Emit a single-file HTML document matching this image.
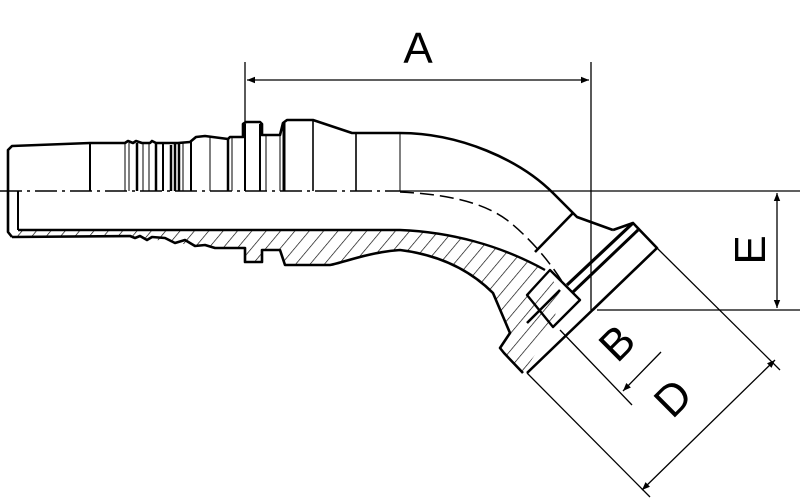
<!DOCTYPE html>
<html><head><meta charset="utf-8"><style>
html,body{margin:0;padding:0;background:#fff;}
svg{display:block;}
text{font-family:"Liberation Sans",sans-serif;fill:#000;}
</style></head><body>
<svg width="800" height="500" viewBox="0 0 800 500" xmlns="http://www.w3.org/2000/svg">
<defs>
<pattern id="h" width="11" height="11" patternUnits="userSpaceOnUse" patternTransform="rotate(40)">
<line x1="0" y1="0" x2="0" y2="11" stroke="#000" stroke-width="1.3"/>
</pattern>
<marker id="ar" viewBox="0 0 10 10" refX="10" refY="5" markerWidth="14" markerHeight="8" orient="auto-start-reverse" markerUnits="userSpaceOnUse">
<path d="M0,1 L10,5 L0,9 Z" fill="#000"/>
</marker>
</defs>

<path d="M10,230 L400,230 C450,232 500,245 545,270 L560,290 L553,327 L523,373 L500,348 L510,333 L493,293 C470,270 440,255 400,250 C370,252 345,262 330,265 L285,265 L280,250 L262,250 L262,262 L245,262 L245,248 L200,246 L190,245 L130,236 L10,238 Z" fill="url(#h)" stroke="none"/>

<g fill="none" stroke="#000" stroke-width="2.6" stroke-linejoin="round">
<path d="M12,237 L8,232 L8,150 L12,146 L90,143 L125,143 L128,141 L133,143 L136,141 L142,143 L150,143 L152,141 L156,143 L163,143 L172,143 L178,143 L190,142 L196,137 L205,136 L228,139 L230,137 L243,137 L243,124 L246,122 L260,122 L262,124 L262,135 L280,135 L283,123 L287,120 L313,120 L352,133 L400,133 C460,133 520,160 553,193 L562,202 L577,217 L613,230"/>
<path d="M12,237 L130,236 L135,238 L140,236 L147,240 L152,237 L165,238 L175,243 L185,240 L195,246 L205,245 L215,248 L245,248 L245,262 L262,262 L262,250 L280,250 L285,265 L330,265 C345,262 370,252 400,250 C440,255 470,270 493,293 L510,333 L500,348 L504,353 L523,373"/>
<path d="M18,230 L400,230 C450,232 500,245 545,270" stroke-width="2.4"/>
<path d="M18,191 L18,230" stroke-width="2"/>
<path d="M613,230 L633,223 L657,248 L527,373"/>
<path d="M633,223 L567,285" stroke-width="3.2"/>
<path d="M638,230 L573,292" stroke-width="3"/>
<path d="M657,248 L593,310" stroke-width="2"/>
<path d="M573,213 L535,252"/>
<path d="M527,295 L550,270 L580,300 L553,327 Z" stroke-width="2.4"/>
<path d="M560,290 L527,323"/>
</g>

<g stroke="#000" stroke-width="2">
<line x1="90" y1="143" x2="90" y2="191"/>
<line x1="125" y1="143" x2="125" y2="191" stroke-width="1"/>
<line x1="129" y1="143" x2="129" y2="191" stroke-width="1"/>
<line x1="137" y1="143" x2="137" y2="191" stroke-width="2.5"/>
<line x1="143" y1="143" x2="143" y2="191" stroke-width="1"/>
<line x1="149" y1="143" x2="149" y2="191" stroke-width="1"/>
<line x1="156" y1="143" x2="156" y2="191" stroke-width="2.5"/>
<line x1="163" y1="143" x2="163" y2="191"/>
<line x1="171" y1="145" x2="171" y2="191" stroke-width="2.5"/>
<line x1="175" y1="143" x2="175" y2="191" stroke-width="2.5"/>
<line x1="179" y1="143" x2="179" y2="191" stroke-width="2.5"/>
<line x1="183" y1="143" x2="183" y2="191" stroke-width="1"/>
<line x1="191" y1="142" x2="191" y2="191"/>
<line x1="210" y1="137" x2="210" y2="191" stroke-width="1"/>
<line x1="228" y1="139" x2="228" y2="191" stroke-width="2.5"/>
<line x1="232" y1="137" x2="232" y2="191" stroke-width="1"/>
<line x1="245" y1="124" x2="245" y2="191"/>
<line x1="260" y1="124" x2="260" y2="191"/>
<line x1="266" y1="135" x2="266" y2="191" stroke-width="1"/>
<line x1="280" y1="135" x2="280" y2="191" stroke-width="1"/>
<line x1="284" y1="123" x2="284" y2="191" stroke-width="3"/>
<line x1="313" y1="120" x2="313" y2="191" stroke-width="1.6"/>
<line x1="356" y1="133" x2="356" y2="191" stroke-width="1.6"/>
<line x1="400" y1="133" x2="400" y2="191" stroke-width="1"/>
</g>

<g stroke="#000" stroke-width="1.5" fill="none">
<line x1="0" y1="191" x2="400" y2="191" stroke-dasharray="22,5,3,5"/>
<path d="M400,192 C440,194 480,200 507,220 C530,238 550,262 563,283" stroke-dasharray="14,6"/>
</g>

<g stroke="#000" stroke-width="1.3" fill="none">
<line x1="245" y1="62" x2="245" y2="122"/>
<line x1="591" y1="62" x2="591" y2="310"/>
<line x1="247" y1="80" x2="589" y2="80" marker-start="url(#ar)" marker-end="url(#ar)"/>
<line x1="400" y1="191" x2="800" y2="191"/>
<line x1="597" y1="310" x2="800" y2="310"/>
<line x1="777" y1="193" x2="777" y2="308" marker-start="url(#ar)" marker-end="url(#ar)"/>
<line x1="657" y1="248" x2="780" y2="370"/>
<line x1="527" y1="373" x2="650" y2="497"/>
<line x1="560" y1="330" x2="632" y2="405"/>
<line x1="661" y1="352" x2="623" y2="391" marker-end="url(#ar)"/>
<line x1="775" y1="360" x2="642" y2="490" marker-start="url(#ar)" marker-end="url(#ar)"/>
</g>

<text x="418" y="63" font-size="44" text-anchor="middle">A</text>
<text transform="translate(765,250) rotate(-90)" font-size="44" text-anchor="middle">E</text>
<text transform="translate(617,343) rotate(-45)" font-size="44" text-anchor="middle" dy="15">B</text>
<text transform="translate(673,398) rotate(-45)" font-size="44" text-anchor="middle" dy="15">D</text>
</svg>
</body></html>
